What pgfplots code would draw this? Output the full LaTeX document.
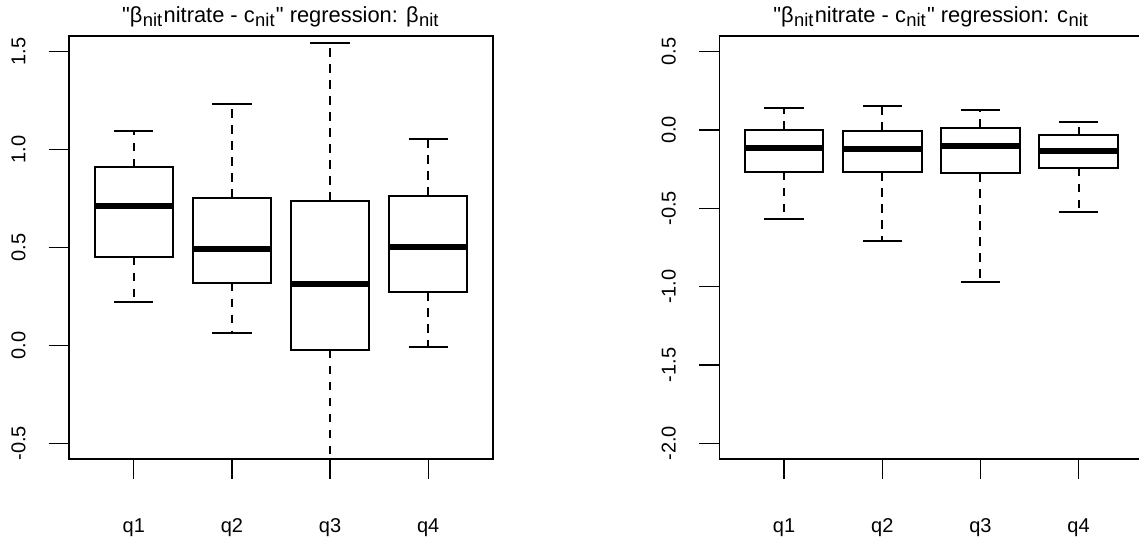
\documentclass[border=0pt]{standalone}
\usepackage{fontspec}
\setmainfont{Liberation Sans}[Ligatures=TeXOff]
\usepackage{pgfplots}
\pgfplotsset{compat=1.18}
\usepgfplotslibrary{statistics}
\newcommand{\fs}{\fontsize{15}{18}\selectfont}
\newcommand{\ft}{\fontsize{16.4}{19}\selectfont}
\newcommand{\sub}[1]{\kern0.3pt\raisebox{-2.8pt}{\fontsize{13.8}{14}\selectfont #1}\kern1pt}
\pgfplotsset{
  rbox/.style={
    black, solid, line width=1.5pt,
    boxplot/draw direction=y,
    boxplot/box extend=0.8,
    boxplot/whisker extend=0.4,
    boxplot/every median/.style={line width=4.5pt},
    boxplot/draw/lower whisker/.code={%
      \draw[line width=1.5pt, dash pattern=on 6.5pt off 5.5pt]
        (boxplot whisker cs:\pgfplotsboxplotvalue{lower quartile},0.5) --
        (boxplot whisker cs:\pgfplotsboxplotvalue{lower whisker},0.5);
      \draw[line width=1.5pt]
        (boxplot whisker cs:\pgfplotsboxplotvalue{lower whisker},0) --
        (boxplot whisker cs:\pgfplotsboxplotvalue{lower whisker},1);
    },
    boxplot/draw/upper whisker/.code={%
      \draw[line width=1.5pt, dash pattern=on 6.5pt off 5.5pt]
        (boxplot whisker cs:\pgfplotsboxplotvalue{upper quartile},0.5) --
        (boxplot whisker cs:\pgfplotsboxplotvalue{upper whisker},0.5);
      \draw[line width=1.5pt]
        (boxplot whisker cs:\pgfplotsboxplotvalue{upper whisker},0) --
        (boxplot whisker cs:\pgfplotsboxplotvalue{upper whisker},1);
    },
  },
  rpanel/.style={
    width=318pt, height=317.25pt, scale only axis,
    anchor=south west,
    xmin=0.34, xmax=4.66,
    xtick={1,2,3,4}, xticklabels={q1,q2,q3,q4},
    tick align=outside, xtick pos=left, ytick pos=left,
    major tick length=15pt,
    every tick/.style={black, line width=1pt},
    axis line style={line width=1pt},
    yticklabel style={rotate=90, anchor=south, inner sep=0pt, font=\fs},
    xticklabel style={anchor=north, inner sep=0pt, font=\fs},
    yticklabel shift=17.4pt, xticklabel shift=29.5pt,
    every axis title/.style={at={(0.5,1)}, anchor=base, yshift=10pt, inner sep=0pt, font=\ft},
  },
}
\begin{document}
\begin{tikzpicture}
\begin{axis}[rpanel, at={(51.75pt,61.5pt)},
  ymin=-0.58, ymax=1.58,
  ytick={-0.5,0,0.5,1,1.5}, yticklabels={-0.5,0.0,0.5,1.0,1.5},
  title={"β\sub{nit}nitrate - c\sub{nit}" regression: β\sub{nit}}]
\addplot[rbox, boxplot prepared={draw position=1, lower whisker=0.220, lower quartile=0.453, median=0.711, upper quartile=0.910, upper whisker=1.094}] coordinates {};
\addplot[rbox, boxplot prepared={draw position=2, lower whisker=0.062, lower quartile=0.321, median=0.493, upper quartile=0.755, upper whisker=1.231}] coordinates {};
\addplot[rbox, boxplot prepared={draw position=3, lower whisker=-0.750, lower quartile=-0.022, median=0.314, upper quartile=0.738, upper whisker=1.546}] coordinates {};
\addplot[rbox, boxplot prepared={draw position=4, lower whisker=-0.007, lower quartile=0.271, median=0.505, upper quartile=0.765, upper whisker=1.052}] coordinates {};
\end{axis}
\begin{axis}[rpanel, at={(539.5pt,61.5pt)},
  ymin=-2.1, ymax=0.6,
  ytick={-2,-1.5,-1,-0.5,0,0.5}, yticklabels={-2.0,-1.5,-1.0,-0.5,0.0,0.5},
  title={"β\sub{nit}nitrate - c\sub{nit}" regression: c\sub{nit}}]
\addplot[rbox, boxplot prepared={draw position=1, lower whisker=-0.566, lower quartile=-0.266, median=-0.113, upper quartile=-0.001, upper whisker=0.138}] coordinates {};
\addplot[rbox, boxplot prepared={draw position=2, lower whisker=-0.709, lower quartile=-0.271, median=-0.119, upper quartile=-0.007, upper whisker=0.151}] coordinates {};
\addplot[rbox, boxplot prepared={draw position=3, lower whisker=-0.969, lower quartile=-0.275, median=-0.105, upper quartile=0.012, upper whisker=0.130}] coordinates {};
\addplot[rbox, boxplot prepared={draw position=4, lower whisker=-0.522, lower quartile=-0.241, median=-0.132, upper quartile=-0.034, upper whisker=0.049}] coordinates {};
\end{axis}
\pgfresetboundingbox
\useasboundingbox (0,0) rectangle (854.25pt,405.75pt);
\end{tikzpicture}
\end{document}
